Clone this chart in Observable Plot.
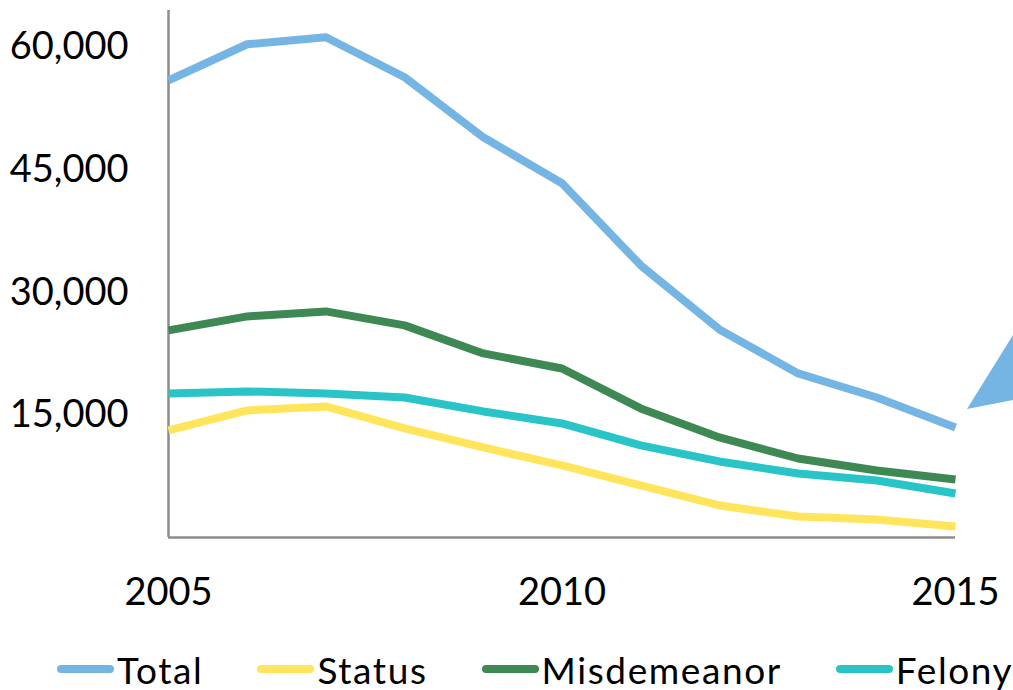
<!DOCTYPE html>
<html>
<head>
<meta charset="utf-8">
<script src="https://cdn.jsdelivr.net/npm/d3@7"></script>
<script src="https://cdn.jsdelivr.net/npm/@observablehq/plot@0.6"></script>
<style>
  html, body { margin: 0; padding: 0; background: #fff; }
  #wrap { position: relative; width: 1013px; height: 690px; overflow: hidden; font-family: Lato, "Open Sans", sans-serif; }
  #legend { position: absolute; left: 57px; top: 646px; height: 46px; display: flex; align-items: center; white-space: nowrap; font-size: 37px; letter-spacing: 1.6px; color: #000; }
  .item { display: flex; align-items: center; margin-right: 54px; }
  .sw { width: 57px; height: 8px; border-radius: 4px; margin-right: 3px; }
  #deco { position: absolute; left: 0; top: 0; pointer-events: none; }
</style>
</head>
<body>
<div id="wrap">
  <div id="chart"></div>
  <div id="legend"></div>
  <svg id="deco" width="1013" height="690"><polygon points="967,409 1013,335 1013,400" fill="#75b5e3"/></svg>
</div>
<script>
const years = [2005, 2006, 2007, 2008, 2009, 2010, 2011, 2012, 2013, 2014, 2015];
const total = [55960, 60370, 61220, 56330, 48980, 43350, 33310, 25470, 20080, 17140, 13470];
const status = [13100, 15550, 16040, 13350, 11020, 8820, 6370, 3920, 2570, 2200, 1350];
const misdemeanor = [25350, 27060, 27670, 25960, 22530, 20690, 15800, 12250, 9670, 8200, 7100];
const felony = [17630, 17880, 17630, 17140, 15430, 13960, 11270, 9310, 7840, 6980, 5390];
const seriesNames = ["Total", "Status", "Misdemeanor", "Felony"];
const seriesColors = ["#75b5e3", "#ffe55c", "#3e8853", "#29c4c8"];
const yTicks = [15000, 30000, 45000, 60000];
const xTicks = [2005, 2010, 2015];

const seriesValues = [total, status, misdemeanor, felony];
const data = [];
seriesNames.forEach((name, i) => {
  years.forEach((yr, j) => data.push({series: name, year: yr, value: seriesValues[i][j]}));
});

const chart = Plot.plot({
  width: 1013,
  height: 646,
  marginLeft: 168,
  marginRight: 58,
  marginTop: 10,
  marginBottom: 109,
  style: {fontFamily: "Lato, 'Open Sans', sans-serif", fontSize: "38px", color: "#000", background: "#fff"},
  x: {domain: [2005, 2015], ticks: xTicks, tickFormat: "d", tickSize: 0, tickPadding: 41, label: null},
  y: {domain: [0, 64500], ticks: yTicks, tickFormat: d3.format(","), tickSize: 0, tickPadding: 40, label: null},
  color: {domain: seriesNames, range: seriesColors},
  marks: [
    Plot.ruleX([2005], {stroke: "#8c8c8c", strokeWidth: 2.5}),
    Plot.ruleY([0], {stroke: "#8c8c8c", strokeWidth: 2.5}),
    Plot.line(data, {x: "year", y: "value", z: "series", stroke: "series", strokeWidth: 8, strokeLinecap: "butt", strokeLinejoin: "round"})
  ]
});
chart.querySelectorAll("text").forEach(t => t.setAttribute("fill", "#000"));
document.getElementById("chart").appendChild(chart);

const legend = document.getElementById("legend");
seriesNames.forEach((name, i) => {
  const item = document.createElement("div");
  item.className = "item";
  const sw = document.createElement("div");
  sw.className = "sw";
  sw.style.background = seriesColors[i];
  const label = document.createElement("span");
  label.textContent = name;
  item.appendChild(sw);
  item.appendChild(label);
  legend.appendChild(item);
});
</script>
</body>
</html>
